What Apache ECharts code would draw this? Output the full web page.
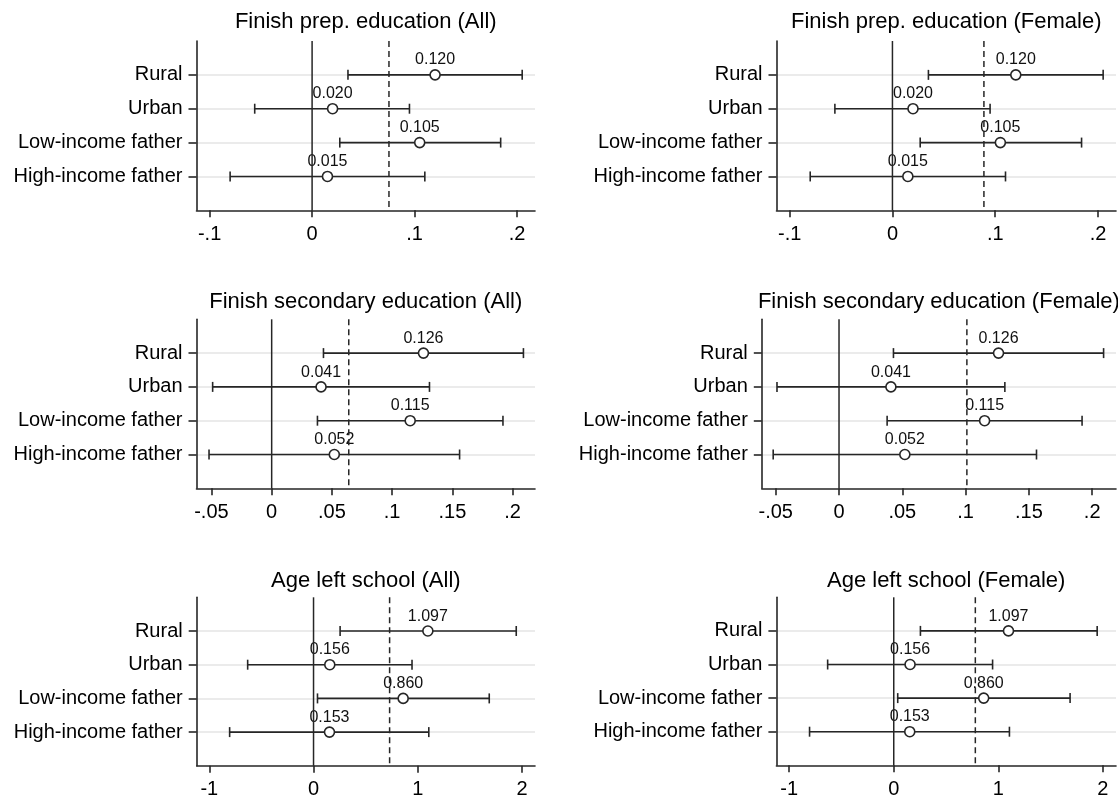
<!DOCTYPE html>
<html><head><meta charset="utf-8">
<script src="https://cdn.jsdelivr.net/npm/echarts@6/dist/echarts.min.js"></script>
<style>html,body{margin:0;padding:0;background:#fff}#c{width:1118px;height:803px}</style>
</head><body><div id="c"></div>
<script>
// ---- data ----
const categories = ['Rural', 'Urban', 'Low-income father', 'High-income father'];
const categoryPos = [1, 2, 3, 4];

const titles = [
  'Finish prep. education (All)', 'Finish prep. education (Female)',
  'Finish secondary education (All)', 'Finish secondary education (Female)',
  'Age left school (All)', 'Age left school (Female)'
];

const prepAllEst = [0.120, 0.020, 0.105, 0.015];
const prepAllLo  = [0.035, -0.056, 0.027, -0.080];
const prepAllHi  = [0.205, 0.095, 0.184, 0.110];
const prepFemEst = [0.120, 0.020, 0.105, 0.015];
const prepFemLo  = [0.035, -0.056, 0.027, -0.080];
const prepFemHi  = [0.205, 0.095, 0.184, 0.110];

const secAllEst = [0.126, 0.041, 0.115, 0.052];
const secAllLo  = [0.043, -0.049, 0.038, -0.052];
const secAllHi  = [0.209, 0.131, 0.192, 0.156];
const secFemEst = [0.126, 0.041, 0.115, 0.052];
const secFemLo  = [0.043, -0.049, 0.038, -0.052];
const secFemHi  = [0.209, 0.131, 0.192, 0.156];

const ageAllEst = [1.097, 0.156, 0.860, 0.153];
const ageAllLo  = [0.255, -0.632, 0.038, -0.805];
const ageAllHi  = [1.945, 0.945, 1.686, 1.106];
const ageFemEst = [1.097, 0.156, 0.860, 0.153];
const ageFemLo  = [0.255, -0.632, 0.038, -0.805];
const ageFemHi  = [1.945, 0.945, 1.686, 1.106];

// vertical reference lines: zero (solid) and dashed line per panel
const zeroLine = 0;
const dashedLines = [0.075, 0.089, 0.064, 0.101, 0.73, 0.78];

const prepTicks = [-0.1, 0, 0.1, 0.2];
const prepTickLabels = ['-.1', '0', '.1', '.2'];
const secTicks = [-0.05, 0, 0.05, 0.1, 0.15, 0.2];
const secTickLabels = ['-.05', '0', '.05', '.1', '.15', '.2'];
const ageTicks = [-1, 0, 1, 2];
const ageTickLabels = ['-1', '0', '1', '2'];

// x axis ranges
const xRanges = [
  [-0.1128, 0.2175], [-0.1128, 0.2175],
  [-0.0624, 0.2186], [-0.0610, 0.2188],
  [-1.121, 2.125], [-1.122, 2.125]
];

// ---- layout ----
const grids = [
  {left: 196.5, top: 41,    width: 338.5, height: 169.3},
  {left: 776.5, top: 41,    width: 339.5, height: 169.3},
  {left: 196.5, top: 319.3, width: 338.5, height: 169},
  {left: 761.8, top: 319.3, width: 354.2, height: 169},
  {left: 196.7, top: 597.3, width: 338.3, height: 168.5},
  {left: 776.4, top: 597.3, width: 339.6, height: 168}
];
const titleY = [23.3, 23.3, 302.7, 302.7, 581.7, 581.7];

const panels = [
  {est: prepAllEst, lo: prepAllLo, hi: prepAllHi, ticks: prepTicks, labels: prepTickLabels},
  {est: prepFemEst, lo: prepFemLo, hi: prepFemHi, ticks: prepTicks, labels: prepTickLabels},
  {est: secAllEst, lo: secAllLo, hi: secAllHi, ticks: secTicks, labels: secTickLabels},
  {est: secFemEst, lo: secFemLo, hi: secFemHi, ticks: secTicks, labels: secTickLabels},
  {est: ageAllEst, lo: ageAllLo, hi: ageAllHi, ticks: ageTicks, labels: ageTickLabels},
  {est: ageFemEst, lo: ageFemLo, hi: ageFemHi, ticks: ageTicks, labels: ageTickLabels}
];

const FONT = "'Liberation Sans', Arial, Helvetica, sans-serif";
const INK = '#262626';
const LW = 1.6;

function renderErr(params, api) {
  const y = api.value(2);
  const p1 = api.coord([api.value(0), y]);
  const p2 = api.coord([api.value(1), y]);
  const h = 5;
  const style = {stroke: INK, lineWidth: LW, fill: null};
  return {type: 'group', children: [
    {type: 'line', shape: {x1: p1[0], y1: p1[1], x2: p2[0], y2: p2[1]}, style: style},
    {type: 'line', shape: {x1: p1[0], y1: p1[1] - h, x2: p1[0], y2: p1[1] + h}, style: style},
    {type: 'line', shape: {x1: p2[0], y1: p2[1] - h, x2: p2[0], y2: p2[1] + h}, style: style}
  ]};
}
function renderRef(params, api) {
  const x = api.value(0);
  const dashed = api.value(1);
  const a = api.coord([x, 0]);
  const b = api.coord([x, 5]);
  return {type: 'line', shape: {x1: a[0], y1: a[1], x2: b[0], y2: b[1]},
    style: {stroke: INK, lineWidth: 1.5, lineDash: dashed ? [6, 4] : null, fill: null}};
}

const option = {
  animation: false,
  backgroundColor: '#fff',
  title: [], grid: [], xAxis: [], yAxis: [], series: []
};

panels.forEach((p, i) => {
  const g = grids[i];
  option.grid.push({left: g.left, top: g.top, width: g.width, height: g.height, containLabel: false});
  option.title.push({
    text: titles[i], left: g.left + g.width / 2, top: titleY[i] - 12,
    textAlign: 'center', padding: 0,
    textStyle: {fontSize: 22, fontWeight: 'normal', color: '#000', fontFamily: FONT}
  });
  option.xAxis.push({
    type: 'value', gridIndex: i, min: xRanges[i][0], max: xRanges[i][1],
    axisLine: {show: true, onZero: false, lineStyle: {color: INK, width: LW}},
    axisTick: {show: true, length: 7, customValues: p.ticks, lineStyle: {color: INK, width: LW}},
    axisLabel: {
      show: true, customValues: p.ticks, margin: 14, fontSize: 20, color: '#000', fontFamily: FONT,
      formatter: (v) => { const k = p.ticks.findIndex(t => Math.abs(t - v) < 1e-9); return k >= 0 ? p.labels[k] : ''; }
    },
    splitLine: {show: false}
  });
  option.yAxis.push({
    type: 'value', gridIndex: i, min: 0, max: 5, inverse: true,
    axisLine: {show: true, onZero: false, lineStyle: {color: INK, width: LW}},
    axisTick: {show: true, length: 8, customValues: categoryPos, lineStyle: {color: INK, width: LW}},
    axisLabel: {
      show: true, customValues: categoryPos, margin: 14, fontSize: 20, color: '#000', fontFamily: FONT,
      formatter: (v) => categories[Math.round(v) - 1] || ''
    },
    splitLine: {show: true, lineStyle: {color: '#e4e4e4', width: 1.5}}
  });
  option.series.push({
    type: 'custom', xAxisIndex: i, yAxisIndex: i, z: 2,
    renderItem: renderErr,
    encode: {x: [0, 1], y: 2},
    data: categoryPos.map((c, k) => [p.lo[k], p.hi[k], c])
  });
  option.series.push({
    type: 'scatter', xAxisIndex: i, yAxisIndex: i, z: 3,
    symbol: 'circle', symbolSize: 10,
    itemStyle: {color: '#fff', borderColor: INK, borderWidth: 1.6, opacity: 1},
    label: {
      show: true, position: 'top', distance: 1, fontSize: 16, color: '#111', fontFamily: FONT,
      formatter: (d) => d.value[0].toFixed(3)
    },
    emphasis: {disabled: true},
    data: categoryPos.map((c, k) => [p.est[k], c])
  });
  option.series.push({
    type: 'custom', xAxisIndex: i, yAxisIndex: i, z: 10,
    renderItem: renderRef,
    encode: {x: 0},
    data: [[zeroLine, 0], [dashedLines[i], 1]]
  });
});

const chart = echarts.init(document.getElementById('c'), null, {renderer: 'canvas'});
chart.setOption(option);
</script>
</body></html>
